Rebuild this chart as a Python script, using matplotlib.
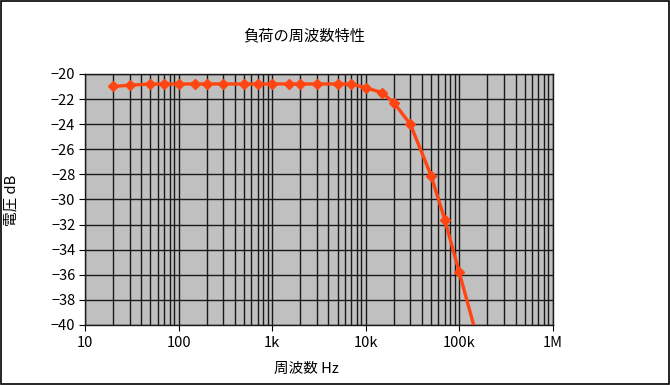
import matplotlib
matplotlib.use('Agg')
import matplotlib.pyplot as plt
from matplotlib.patches import Rectangle
from matplotlib.ticker import FixedLocator, LogLocator, NullFormatter

plt.rcParams['font.family'] = ['Noto Sans CJK JP', 'DejaVu Sans']
plt.rcParams['axes.unicode_minus'] = True

# 周波数と電圧
freq = [20, 30, 50, 70, 100, 150, 200, 300, 500, 700, 1000, 1500, 2000, 3000,
        5000, 7000, 10000, 15000, 20000, 30000, 50000, 70000, 100000, 150000]
volt = [-21.0, -20.9, -20.8, -20.8, -20.8, -20.8, -20.8, -20.8, -20.8, -20.8,
        -20.8, -20.8, -20.8, -20.8, -20.8, -20.8, -21.1, -21.5, -22.3, -24.0,
        -28.1, -31.6, -35.8, -40.6]

xticks = [10, 100, 1000, 10000, 100000, 1000000]
xlabels = ['10', '100', '1k', '10k', '100k', '1M']
yticks = list(range(-40, -19, 2))

fig = plt.figure(figsize=(6.7, 3.85), dpi=100)
ax = fig.add_axes([0.127, 0.156, 0.698, 0.652])
ax.set_facecolor('#c0c0c0')

ax.plot(freq, volt, color='#ff4512', lw=2.4, marker='D', ms=5.5,
        solid_capstyle='butt', clip_on=True, zorder=3)

ax.set_xscale('log')
ax.set_xlim(10, 1e6)
ax.set_ylim(-40, -20)
ax.xaxis.set_major_locator(FixedLocator(xticks))
ax.set_xticklabels(xlabels)
ax.xaxis.set_minor_locator(LogLocator(base=10, subs=range(2, 10)))
ax.xaxis.set_minor_formatter(NullFormatter())
ax.set_yticks(yticks)
ax.set_yticklabels(['\u2212' + str(-v) for v in yticks])

ax.grid(True, which='both', axis='x', color='#1a1a1a', lw=1.0)
ax.grid(True, which='major', axis='y', color='#1a1a1a', lw=1.0)
ax.set_axisbelow(True)
ax.tick_params(axis='both', which='major', direction='out', length=4,
               color='black', labelsize=10.5, pad=3)
ax.tick_params(axis='x', which='minor', length=0)
ax.tick_params(axis='x', pad=4)
for s in ax.spines.values():
    s.set_color('#1a1a1a')
    s.set_linewidth(1.0)

fig.text(0.454, 0.908, '負荷の周波数特性', ha='center', va='center', fontsize=11)
fig.text(0.457, 0.042, '周波数 Hz', ha='center', va='center', fontsize=10.5)
fig.text(0.0165, 0.48, '電圧 dB', rotation=90, ha='center', va='center', fontsize=10.5)

fig.patches.append(Rectangle((0.001, 0.002), 0.997, 0.995, transform=fig.transFigure,
                             fill=False, edgecolor='black', lw=1.2))

fig.savefig('out.png', dpi=100)
